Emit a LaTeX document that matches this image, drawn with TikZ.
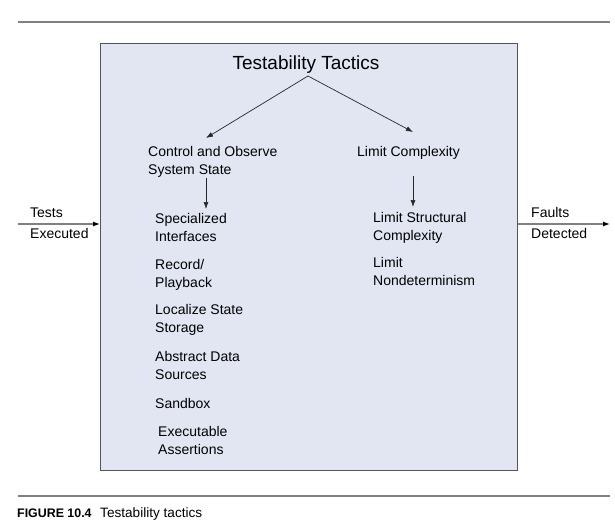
\documentclass[tikz,border=0pt]{standalone}
\usepackage{fontspec}
\setmainfont{Liberation Sans}
\usetikzlibrary{arrows.meta}
\definecolor{boxfill}{RGB}{225,230,242}
\definecolor{boxline}{RGB}{85,85,85}
\definecolor{rulegray}{RGB}{128,128,128}
\begin{document}
\begin{tikzpicture}[x=1pt,y=-1pt,
  txt/.style={anchor=base west,inner sep=0pt,align=left,font=\fontsize{14}{18}\selectfont},
  arr/.style={draw=black!85,line width=0.7pt,-{Latex[length=7pt,width=5pt]}},
  side/.style={draw=rulegray,line width=1.2pt,-{Latex[length=7pt,width=5pt,color=black]}}]
\useasboundingbox (0,0) rectangle (615,527);
% rules
\draw[rulegray,line width=1.5pt] (18,22) -- (610,22);
\draw[rulegray,line width=1.2pt] (18,496) -- (610,496);
% main box
\node[draw=boxline,fill=boxfill,line width=1pt,minimum width=417pt,minimum height=427pt,inner sep=0pt,anchor=north west] (box) at (100,43) {};
% title
\node[anchor=base,inner sep=0pt,font=\fontsize{19}{22}\selectfont] (title) at (306,69) {Testability Tactics};
\coordinate (tt) at (308,76);
% branches (base anchor = baseline of last line)
\node[txt] (ctrl) at (148,174) {Control and Observe\\System State};
\node[txt] (limit) at (357,156) {Limit Complexity};
\coordinate (ctrlin) at (206,138);
\coordinate (limitin) at (413,132);
\draw[arr] (tt) -- (ctrlin);
\draw[arr] (tt) -- (limitin);
\coordinate (c1) at (206,178);
\coordinate (c2) at (206,209);
\coordinate (l1) at (413,176);
\coordinate (l2) at (413,207);
\draw[arr] (c1) -- (c2);
\draw[arr] (l1) -- (l2);
% left items
\node[txt] (i1) at (155,241) {Specialized\\Interfaces};
\node[txt] (i2) at (155,287) {Record/\\Playback};
\node[txt] (i3) at (155,332) {Localize State\\Storage};
\node[txt] (i4) at (155,379) {Abstract Data\\Sources};
\node[txt] (i5) at (155,408) {Sandbox};
\node[txt] (i6) at (158,454) {Executable\\Assertions};
% right items
\node[txt] (r1) at (373,240) {Limit Structural\\Complexity};
\node[txt] (r2) at (373,285) {Limit\\Nondeterminism};
% side labels
\node[txt] (tests) at (30,217) {Tests};
\node[txt] (exec) at (30,238) {Executed};
\node[txt] (faults) at (531,217) {Faults};
\node[txt] (det) at (531,238) {Detected};
\coordinate (inL) at (18,224);
\coordinate (outR) at (610,224);
\draw[side] (inL) -- (box.west |- inL);
\draw[side] (box.east |- outR) -- (outR);
% caption
\node[anchor=base west,inner sep=0pt,font=\fontsize{12.4}{15}\selectfont\bfseries] (fig) at (17,517) {FIGURE 10.4};
\node[anchor=base west,inner sep=0pt,font=\fontsize{13.6}{16}\selectfont] (cap) at (100,517) {Testability tactics};
\end{tikzpicture}
\end{document}
